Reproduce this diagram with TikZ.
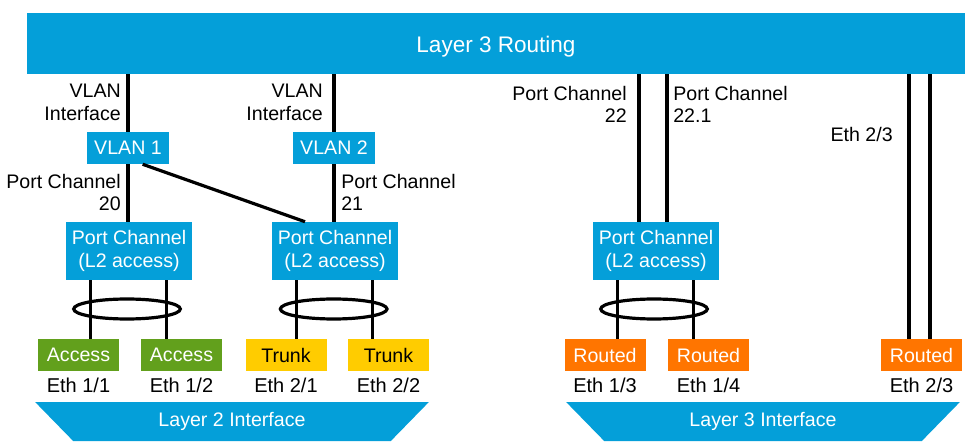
\documentclass[tikz,border=0pt]{standalone}
\usepackage{fontspec}
\setmainfont{Liberation Sans}
\usetikzlibrary{positioning,calc,shapes.geometric}
\definecolor{netblue}{RGB}{4,159,217}
\definecolor{accgreen}{RGB}{98,160,28}
\definecolor{trunkyellow}{RGB}{255,204,0}
\definecolor{routedorange}{RGB}{255,117,0}

\begin{document}
\begin{tikzpicture}[
  x=0.75pt,y=-0.75pt,
  font=\fontsize{14.7}{16.8}\selectfont,
  bar/.style={fill=netblue,text=white,minimum width=703.5pt,minimum height=45.75pt,
    text height=16.8pt,text depth=3.6pt,font=\fontsize{16.9}{19}\selectfont},
  vlan/.style={fill=netblue,text=white,minimum width=61.5pt,minimum height=24pt,inner sep=0pt},
  pc/.style={fill=netblue,text=white,align=center,minimum width=94.5pt,minimum height=43.5pt,inner sep=0pt},
  port/.style={minimum width=60.75pt,minimum height=24pt,inner sep=0pt},
  access/.style={port,fill=accgreen,text=white},
  trunk/.style={port,fill=trunkyellow,text=black},
  routed/.style={port,fill=routedorange,text=white},
  eth/.style={inner sep=0pt,font=\fontsize{15}{17}\selectfont},
  lbl/.style={inner sep=0pt},
  iface/.style={trapezium,trapezium angle=46,shape border rotate=180,trapezium stretches=true,
    fill=netblue,text=white,minimum width=295.5pt,minimum height=29.25pt,inner sep=0pt,font=\fontsize{14.7}{17}\selectfont},
  link/.style={line width=2.4pt},
  bundle/.style={draw,ellipse,line width=2.4pt,minimum width=80pt,minimum height=15pt,inner sep=0pt}
]
\useasboundingbox (0,0) rectangle (969,448);

\node[bar] (l3) at (496,43.5) {Layer 3 Routing};
\node[vlan] (vlan1) at (128,148) {VLAN 1};
\node[vlan] (vlan2) at (334,148) {VLAN 2};
\node[pc] (pc1) at (129,251) {Port Channel\\(L2 access)};
\node[pc] (pc2) at (335,251) {Port Channel\\(L2 access)};
\node[pc] (pc3) at (656,251) {Port Channel\\(L2 access)};

\node[access] (acc1) at (78.5,355) {Access};
\node[access] (acc2) at (181.5,355) {Access};
\node[trunk] (trk1) at (286,355) {Trunk};
\node[trunk] (trk2) at (388.5,355) {Trunk};
\node[routed] (rt1) at (605,355) {Routed};
\node[routed] (rt2) at (708.5,355) {Routed};
\node[routed] (rt3) at (921.5,355) {Routed};

\node[eth,below=5pt of acc1] (eth11) {Eth 1/1};
\node[eth,below=5pt of acc2] (eth12) {Eth 1/2};
\node[eth,below=5pt of trk1] (eth21) {Eth 2/1};
\node[eth,below=5pt of trk2] (eth22) {Eth 2/2};
\node[eth,below=5pt of rt1] (eth13) {Eth 1/3};
\node[eth,below=5pt of rt2] (eth14) {Eth 1/4};
\node[eth,below=5pt of rt3] (eth23) {Eth 2/3};

\node[iface] (l2if) at (232,421.5) {Layer 2 Interface};
\node[iface] (l3if) at (763,421.5) {Layer 3 Interface};

% labels on the links
\node[lbl,anchor=north east,align=right] (vif1) at (121,84) {VLAN\\Interface};
\node[lbl,anchor=north east,align=right] (vif2) at (323,84) {VLAN\\Interface};
\node[lbl,anchor=north east,align=right] (pcl20) at (121,174) {Port Channel\\20};
\node[lbl,anchor=north west,align=left] (pcl21) at (341,174) {Port Channel\\21};
\node[lbl,anchor=north east,align=right] (pcl22) at (627,86) {Port Channel\\22};
\node[lbl,anchor=north west,align=left] (pcl221) at (673,86) {Port Channel\\22.1};
\node[lbl,anchor=north east] (eth23l) at (893,127) {Eth 2/3};

% vlan links
\draw[link] (vlan1) -- (vlan1 |- l3.south);
\draw[link] (vlan1) -- (vlan1 |- pc1.north);
\draw[link] (vlan2) -- (vlan2 |- l3.south);
\draw[link] (vlan2) -- (vlan2 |- pc2.north);
\draw[link] ([xshift=11pt]vlan1.south) -- ([xshift=-22.5pt]pc2.north);

% routed links
\draw[link] ([xshift=-12.75pt]pc3.north) -- ([xshift=-12.75pt]pc3.north |- l3.south);
\draw[link] ([xshift=8.25pt]pc3.north) -- ([xshift=8.25pt]pc3.north |- l3.south);
\draw[link] ([xshift=-9.4pt]rt3.north) -- ([xshift=-9.4pt]rt3.north |- l3.south);
\draw[link] ([xshift=6.4pt]rt3.north) -- ([xshift=6.4pt]rt3.north |- l3.south);

% members
\foreach \pc/\a/\b in {pc1/acc1/acc2,pc2/trk1/trk2,pc3/rt1/rt2}{
  \draw[link] ([xshift=-29pt]\pc.south) -- ([xshift=-29pt]\pc.south |- \a.north);
  \draw[link] ([xshift=28pt]\pc.south) -- ([xshift=28pt]\pc.south |- \b.north);
}
\node[bundle] (lag1) at ([xshift=-1.5pt]pc1.south |- 0,309) {};
\node[bundle] (lag2) at ([xshift=-1pt]pc2.south |- 0,309) {};
\node[bundle] (lag3) at ([xshift=-1.5pt]pc3.south |- 0,309) {};
\end{tikzpicture}
\end{document}
